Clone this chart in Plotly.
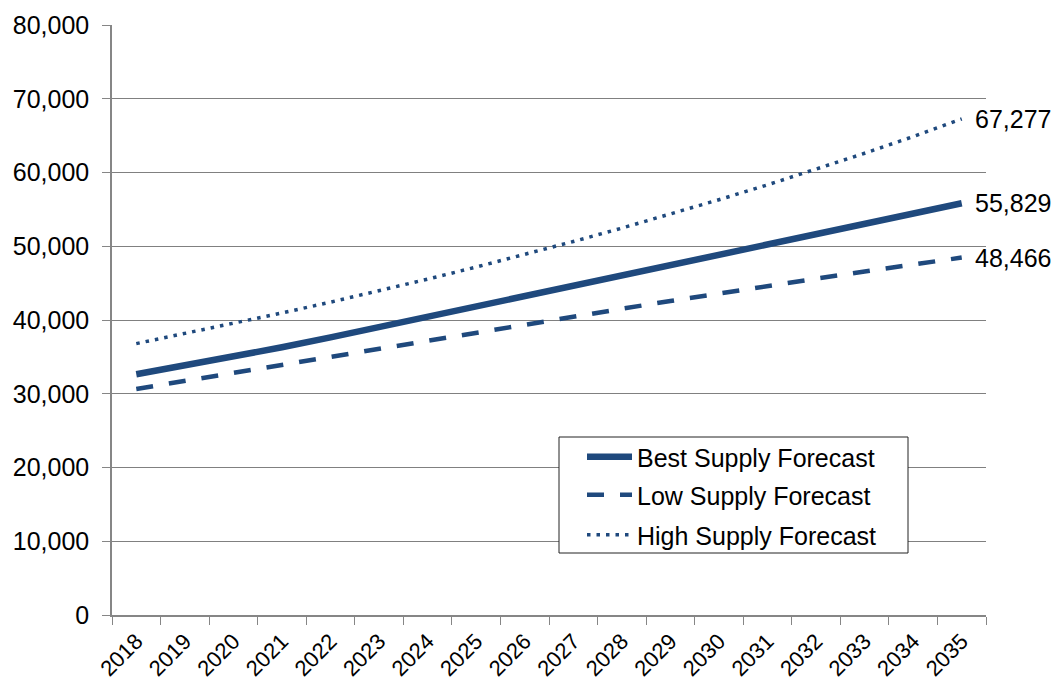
import plotly.graph_objects as go

# Forecast years (category axis)
years = [str(y) for y in range(2018, 2036)]

# Supply forecast series
best_supply = [32650, 33800, 35000, 36300, 37650, 39050, 40450, 41850, 43250,
               44600, 46000, 47350, 48750, 50150, 51550, 52950, 54400, 55829]
low_supply = [30650, 31750, 32850, 33950, 35050, 36130, 37200, 38280, 39360,
              40440, 41520, 42580, 43620, 44620, 45600, 46570, 47520, 48466]
high_supply = [36800, 38150, 39530, 40950, 42420, 43950, 45540, 47180, 48880,
               50640, 52460, 54350, 56310, 58330, 60430, 62610, 64870, 67277]

series_names = ["Best Supply Forecast", "Low Supply Forecast", "High Supply Forecast"]

LINE_COLOR = "#1F497D"
FONT = "Liberation Sans, Arial, sans-serif"
FS = 25
FS_X = 22

fig = go.Figure()

styles = [
    dict(width=6.5, dash="solid"),
    dict(width=4.5, dash="17px,16px"),
    dict(width=3.5, dash="3.5px,6px"),
]
legends = ["legend", "legend2", "legend3"]

for name, vals, st, lg in zip(series_names, [best_supply, low_supply, high_supply], styles, legends):
    fig.add_trace(go.Scatter(
        x=years, y=vals, mode="lines", name=name,
        line=dict(color=LINE_COLOR, width=st["width"], dash=st["dash"]),
        legend=lg, hoverinfo="x+y",
    ))
    # end-of-line value label (category index of the last year)
    fig.add_annotation(
        x=len(years) - 1, y=vals[-1], text=f"{vals[-1]:,}",
        showarrow=False, xanchor="left", yanchor="middle", xshift=11,
        font=dict(family=FONT, size=FS, color="black"),
    )

# Plot-area geometry (px) for positioning the legend block
L, R, T, B = 112, 69, 25, 69
W, H = 1055, 684
pw, ph = W - L - R, H - T - B

def px_x(x):
    return (x - L) / pw

def px_y(y):
    return (H - B - y) / ph

# white legend box
fig.add_shape(type="rect", xref="paper", yref="paper",
              x0=px_x(559), x1=px_x(908), y0=px_y(553), y1=px_y(437),
              line=dict(color="#222222", width=1), fillcolor="white", layer="above")

legend_common = dict(
    xanchor="left", yanchor="middle", bgcolor="rgba(0,0,0,0)", borderwidth=0,
    font=dict(family=FONT, size=FS, color="black"), itemwidth=45,
)
row_y = [457, 495, 535]
layout_legends = {}
for lg, ry in zip(legends, row_y):
    layout_legends[lg] = dict(x=px_x(582), y=px_y(ry), **legend_common)

fig.update_layout(
    width=W, height=H,
    margin=dict(l=L, r=R, t=T, b=B, pad=0, autoexpand=False),
    paper_bgcolor="white", plot_bgcolor="white",
    font=dict(family=FONT, size=FS, color="black"),
    showlegend=True,
    **layout_legends,
    xaxis=dict(
        type="category", range=[-0.5, len(years) - 0.5], automargin=False,
        tickson="boundaries", ticks="outside", ticklen=8, tickcolor="#868686",
        showline=True, linecolor="#868686", linewidth=1.5,
        showgrid=False, tickangle=-45, tickfont=dict(family=FONT, size=FS_X, color="black"),
        ticklabelstandoff=3,
    ),
    yaxis=dict(
        range=[0, 80000], dtick=10000, tickformat=",", automargin=False,
        ticks="outside", ticklen=8, tickcolor="#868686",
        showline=True, linecolor="#868686", linewidth=1.5,
        showgrid=True, gridcolor="#808080", gridwidth=1,
        zeroline=False,
        tickfont=dict(family=FONT, size=FS, color="black"),
        ticklabelstandoff=8,
    ),
)

fig.write_html("out.html")
